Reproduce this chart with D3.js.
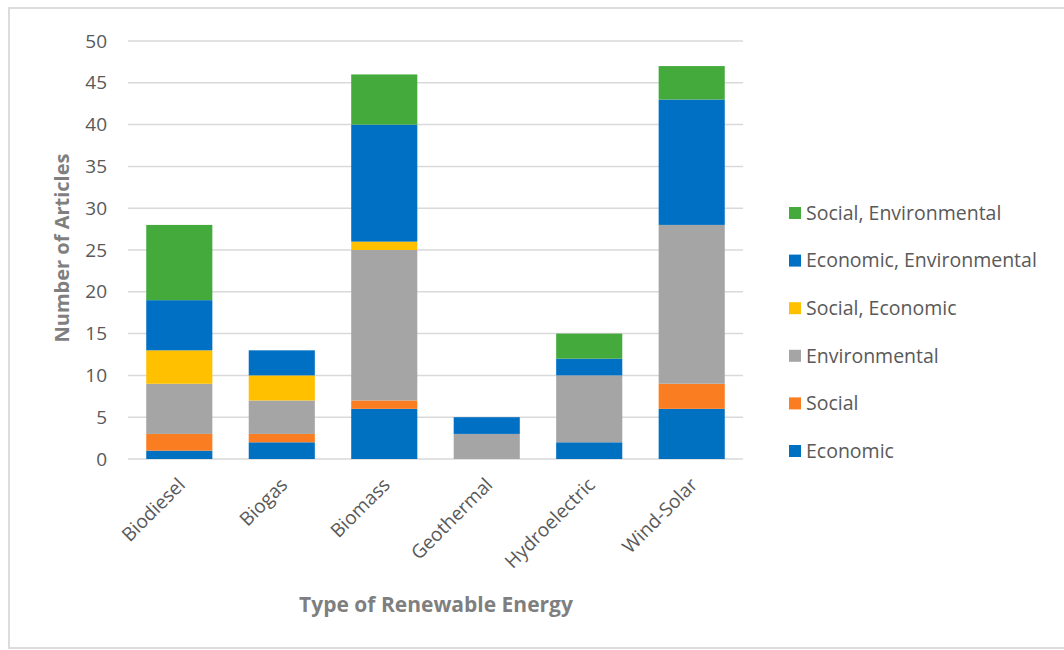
<!DOCTYPE html>
<html>
<head>
<meta charset="utf-8">
<script src="https://cdn.jsdelivr.net/npm/d3@7"></script>
<style>
  body { margin: 0; background: #fff; }
  text { font-family: "Open Sans", sans-serif; }
</style>
</head>
<body>
<div class="chart"></div>
<script>
const categories = ["Biodiesel", "Biogas", "Biomass", "Geothermal", "Hydroelectric", "Wind-Solar"];
const seriesNames = ["Economic", "Social", "Environmental", "Social, Economic", "Economic, Environmental", "Social, Environmental"];
const economic = [1, 2, 6, 0, 2, 6];
const social = [2, 1, 1, 0, 0, 3];
const environmental = [6, 4, 18, 3, 8, 19];
const socialEconomic = [4, 3, 1, 0, 0, 0];
const economicEnvironmental = [6, 3, 14, 2, 2, 15];
const socialEnvironmental = [9, 0, 6, 0, 3, 4];
const yTicks = [0, 5, 10, 15, 20, 25, 30, 35, 40, 45, 50];

const colors = ["#0070C0", "#FB7D22", "#A5A5A5", "#FFC000", "#0070C4", "#43AA3B"];

const W = 1064, H = 650;
const margin = {top: 41, left: 128, right: 321, bottom: 191};
const width = W - margin.left - margin.right,
      height = H - margin.top - margin.bottom;

const svg = d3.select(".chart").append("svg")
    .attr("width", W)
    .attr("height", H);

// outer frame
svg.append("rect")
    .attr("x", 9).attr("y", 8)
    .attr("width", 1070).attr("height", 640)
    .attr("fill", "none")
    .attr("stroke", "#dcdcdc")
    .attr("stroke-width", 2);

const g = svg.append("g")
    .attr("transform", "translate(" + margin.left + "," + margin.top + ")");

// build rows for the stack
const seriesValues = [economic, social, environmental, socialEconomic, economicEnvironmental, socialEnvironmental];
const rows = categories.map((c, i) => {
    let r = {cat: c};
    seriesNames.forEach((s, j) => r[s] = seriesValues[j][i]);
    return r;
});
const stacked = d3.stack().keys(seriesNames)(rows);

const x = d3.scaleBand()
    .domain(categories)
    .range([0, width])
    .paddingInner(0.355)
    .paddingOuter(0.178);

const y = d3.scaleLinear()
    .domain([0, 50])
    .range([height, 0]);

// gridlines
g.append("g")
    .selectAll("line")
    .data(yTicks)
    .join("line")
    .attr("x1", 0).attr("x2", width)
    .attr("y1", d => y(d)).attr("y2", d => y(d))
    .attr("stroke", "#d9d9d9")
    .attr("stroke-width", 1.5);

// y tick labels
const yAxis = g.append("g")
    .call(d3.axisLeft(y).tickValues(yTicks).tickSize(0).tickPadding(21));
yAxis.select(".domain").remove();
yAxis.selectAll("text")
    .attr("font-size", 19)
    .attr("fill", "#595959")
    .style("font-family", "'Open Sans', sans-serif");

// bars
g.append("g")
    .selectAll("g")
    .data(stacked)
    .join("g")
    .attr("fill", (d, i) => colors[i])
    .selectAll("rect")
    .data(d => d)
    .join("rect")
    .attr("x", d => x(d.data.cat))
    .attr("y", d => y(d[1]))
    .attr("width", x.bandwidth())
    .attr("height", d => y(d[0]) - y(d[1]));

// x labels
const xAxis = g.append("g")
    .attr("transform", "translate(0," + height + ")")
    .call(d3.axisBottom(x).tickSize(0).tickPadding(0));
xAxis.select(".domain").remove();
xAxis.selectAll("text")
    .attr("font-size", 19)
    .attr("fill", "#595959")
    .attr("text-anchor", "end")
    .attr("dy", 0)
    .attr("transform", "translate(7,27) rotate(-45)")
    .style("font-family", "'Open Sans', sans-serif");

// axis titles
svg.append("text")
    .attr("x", 436).attr("y", 612)
    .attr("text-anchor", "middle")
    .attr("font-size", 21)
    .attr("font-weight", "bold")
    .attr("fill", "#7f7f7f")
    .text("Type of Renewable Energy");

svg.append("text")
    .attr("transform", "translate(69,248) rotate(-90)")
    .attr("text-anchor", "middle")
    .attr("font-size", 20)
    .attr("font-weight", "bold")
    .attr("fill", "#7f7f7f")
    .text("Number of Articles");

// legend (top to bottom is reversed series order)
const legendItems = seriesNames.map((s, i) => ({name: s, color: colors[i]})).reverse();
const legend = svg.append("g")
    .attr("transform", "translate(789,213)")
    .selectAll("g")
    .data(legendItems)
    .join("g")
    .attr("transform", (d, i) => "translate(0," + i * 47.6 + ")");

legend.append("rect")
    .attr("x", 0).attr("y", -6)
    .attr("width", 12).attr("height", 12)
    .attr("fill", d => d.color);

legend.append("text")
    .attr("x", 17).attr("y", 0)
    .attr("dy", "0.35em")
    .attr("font-size", 19.5)
    .attr("fill", "#595959")
    .text(d => d.name);
</script>
</body>
</html>
